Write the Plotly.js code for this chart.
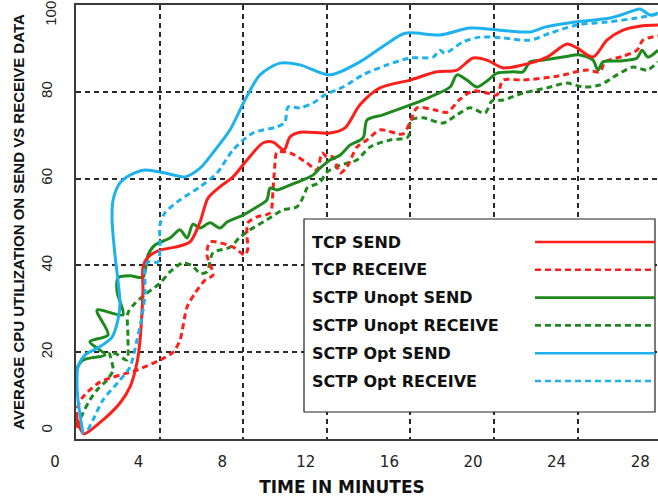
<!DOCTYPE html>
<html><head><meta charset="utf-8">
<script src="https://cdn.plot.ly/plotly-3.0.1.min.js"></script>
<style>html,body{margin:0;padding:0;background:#fff;}#chart{width:658px;height:497px;}</style>
</head><body><div id="chart"></div>
<script>
// ---- data (minutes, % CPU) ----
const seriesNames = ["TCP SEND", "TCP RECEIVE", "SCTP Unopt SEND", "SCTP Unopt RECEIVE", "SCTP Opt SEND", "SCTP Opt RECEIVE"];

const tcpSendX = [1.0,1.2,1.39,2.30,3.11,3.59,3.92,4.07,4.16,4.21,4.21,4.45,5.02,5.74,6.46,6.94,7.32,7.89,8.52,9.19,9.95,10.43,10.96,11.24,11.72,13.16,13.88,14.59,15.55,16.99,18.28,19.23,20.0,20.67,21.44,22.39,23.54,24.50,24.98,25.74,26.41,27.18,28.13,28.85];
const tcpSendY = [5.5,2.5,1.2,4.4,8.3,12.0,17.5,22.8,29.0,34.3,39.6,41.9,43.5,44.2,45.4,50.0,55.5,58.1,60.4,64.3,68.2,68.4,66.6,69.6,70.7,70.5,71.7,77.0,80.9,82.7,84.6,85.0,87.8,87.3,85.5,86.2,88.0,91.0,90.1,88.0,91.9,94.2,95.2,95.4];

const tcpRecvX = [1.10,1.05,1.29,2.15,3.92,5.02,5.65,5.98,6.32,6.70,7.18,7.56,7.27,7.42,8.52,9.09,9.23,9.19,9.23,9.67,10.29,10.43,10.53,10.62,11.24,12.06,12.54,12.78,13.01,13.30,13.64,13.97,14.45,14.93,15.55,16.65,16.99,17.32,18.18,18.76,19.38,20.0,20.67,21.15,21.44,22.39,24.02,25.45,26.08,26.32,27.18,27.85,28.13,28.85];
const tcpRecvY = [2.5,6.7,9.4,13.1,15.9,18.2,20.0,22.8,30.4,33.6,36.6,37.8,42.4,45.4,44.2,42.4,44.0,46.5,49.8,51.2,52.1,57.4,63.6,66.1,65.9,63.6,62.0,65.9,65.0,65.0,61.3,62.7,67.3,68.9,71.2,70.3,73.0,76.3,75.8,75.3,78.3,80.2,79.7,79.3,82.7,82.7,83.6,85.0,84.6,86.9,88.2,89.6,91.9,92.9];

const unoptSendX = [0.81,1.34,2.39,1.67,2.54,2.01,3.25,2.97,3.01,3.59,4.21,4.45,4.78,5.50,5.98,6.32,6.60,6.94,7.42,7.89,8.23,9.0,9.67,10.14,10.29,10.62,11.24,11.87,12.34,12.68,13.16,13.64,14.11,14.74,14.93,15.69,17.13,17.94,18.90,19.23,19.71,20.19,20.67,21.15,21.91,22.39,22.73,23.35,24.31,25.12,25.74,25.98,26.22,27.03,27.85,28.09,28.37,28.85];
const unoptSendY = [14.1,18.2,19.4,22.4,24.0,29.7,28.6,33.9,37.1,37.6,37.3,42.4,44.7,46.3,48.2,46.3,49.5,48.6,49.8,48.6,50.0,51.6,53.5,55.1,57.8,57.4,58.5,59.7,60.8,62.4,64.3,65.4,67.7,69.4,73.5,74.7,77.2,78.8,81.1,83.9,82.7,81.1,82.5,84.3,84.6,84.6,86.9,87.3,88.0,88.5,87.3,85.0,86.9,87.1,87.8,89.6,88.0,89.6];

const unoptRecvX = [1.05,1.34,1.67,2.01,2.49,2.78,2.63,3.01,3.44,3.49,3.49,3.83,4.40,5.02,5.50,6.12,6.56,6.94,7.27,7.56,8.37,8.85,9.33,10.14,10.91,11.58,11.96,12.06,12.68,13.01,13.64,14.45,15.07,16.03,16.89,17.03,17.61,18.56,19.23,19.86,20.57,20.91,21.44,22.39,23.54,24.50,25.26,26.08,26.89,27.66,28.33,28.85];
const unoptRecvY = [2.8,6.0,9.0,11.3,13.6,15.9,20.0,19.4,18.2,23.5,29.0,31.3,33.6,35.9,38.5,40.6,39.9,38.2,38.5,42.9,44.2,46.5,48.2,50.5,52.8,53.5,56.7,57.8,59.2,61.5,63.1,64.3,67.3,68.9,69.6,73.5,74.0,72.8,74.7,76.3,75.1,77.9,78.1,79.7,80.9,82.0,81.1,81.6,83.9,85.7,85.0,86.9];

const optSendX = [1.34,1.10,1.05,1.10,1.44,2.06,2.73,3.01,3.11,3.01,2.87,2.73,2.78,3.11,3.59,4.31,5.26,6.22,6.94,7.66,8.37,9.09,9.81,10.77,11.72,13.16,14.59,15.79,16.75,18.42,19.86,21.29,22.73,23.44,24.88,26.56,27.51,27.99,28.47,28.85];
const optSendY = [1.2,9.0,12.9,16.6,19.4,21.0,23.5,27.4,31.3,36.6,42.4,50.5,55.1,59.0,60.8,62.0,61.3,60.4,62.4,66.6,71.2,78.1,83.9,86.6,86.2,83.9,86.9,90.8,93.5,93.1,94.7,94.2,93.8,94.9,96.1,97.0,98.4,99.1,97.7,98.2];

const optRecvX = [1.58,1.82,2.30,3.11,3.59,3.92,4.16,4.31,4.31,4.45,4.93,5.02,5.02,5.26,5.98,6.94,7.75,8.52,9.47,10.62,11.0,11.15,11.72,12.34,12.92,13.78,14.74,15.89,16.99,18.09,18.42,18.66,19.52,20.33,21.44,22.73,23.68,24.98,26.41,27.85,28.85];
const optRecvY = [2.1,4.4,9.0,13.6,16.6,22.8,28.1,33.6,39.6,40.8,40.8,44.7,49.3,52.1,55.1,58.1,61.3,66.6,70.5,71.9,73.0,76.5,76.3,77.4,79.3,81.1,83.9,86.2,87.8,88.0,89.6,88.9,91.5,92.6,92.4,91.9,93.5,95.4,96.1,97.0,97.9];

// axis tick labels and grid positions
const xTickVals = [0, 4, 8, 12, 16, 20, 24, 28];
const xTickText = ["0", "4", "8", "12", "16", "20", "24", "28"];
const xGridVals = [5, 9, 13, 17, 21, 25];
const yTickVals = [0, 20, 40, 60, 80, 100];
const yTickText = ["\u00A0\u00A0\u00A0\u00A00", "20", "40", "60", "80", "100"];
const xTitle = "TIME IN MINUTES";
const yTitle = "AVERAGE CPU UTILIZATION ON SEND VS RECEIVE DATA";

// ---- styles ----
const RED = "#ff1f1a", GREEN = "#1e8a1e", BLUE = "#1db2ee";
const DASH = "6px,4px";
const styles = [
  {color: RED, dash: "solid"},
  {color: RED, dash: DASH},
  {color: GREEN, dash: "solid"},
  {color: GREEN, dash: DASH},
  {color: BLUE, dash: "solid"},
  {color: BLUE, dash: DASH}
];
const xs = [tcpSendX, tcpRecvX, unoptSendX, unoptRecvX, optSendX, optRecvX];
const ys = [tcpSendY, tcpRecvY, unoptSendY, unoptRecvY, optSendY, optRecvY];
// draw order: back to front
const order = [3, 1, 2, 0, 5, 4];

const traces = order.map(i => ({
  type: "scatter", mode: "lines", name: seriesNames[i],
  x: xs[i], y: ys[i], xaxis: "x", yaxis: "y",
  line: {color: styles[i].color, dash: styles[i].dash, width: 3, shape: "spline", smoothing: 0.8},
  showlegend: false, hoverinfo: "skip"
}));
// carriers for the label-only axes
traces.push({type: "scatter", mode: "lines", x: [], y: [], xaxis: "x2", yaxis: "y2", showlegend: false, hoverinfo: "skip"});
traces.push({type: "scatter", mode: "lines", x: [], y: [], xaxis: "x", yaxis: "y3", showlegend: false, hoverinfo: "skip"});

// pixel geometry
const W = 658, H = 497, L = 26, T = 5, B = 58;
const plotLeftPx = 76;
const pxPerMin = 20.9, zeroPx = 55;
const mainDomainStart = (plotLeftPx - L) / (W - L);
const xMainRange = [(plotLeftPx - zeroPx) / pxPerMin, (W - zeroPx) / pxPerMin];
const xLabelRange = [(L - zeroPx) / pxPerMin, (W - zeroPx) / pxPerMin];

const AX = "#3a3a3a";
const gridStyle = {showgrid: true, gridcolor: "#2a2a2a", gridwidth: 2, griddash: "5px,4px"};
const yTickFont = {family: "Liberation Sans, Arial", size: 15, color: "#222"};

// legend built by hand: labels left, line keys right
const plotH = H - T - B;
const toPX = px => (px - L) / (W - L);
const toPY = py => (H - B - py) / plotH;
const box = {x0: toPX(304), x1: toPX(655), y0: toPY(412), y1: toPY(219)};
const rowTop = 242, rowStep = 27.8;
const shapes = [{type: "rect", xref: "paper", yref: "paper", x0: box.x0, x1: box.x1, y0: box.y0, y1: box.y1,
  fillcolor: "#fff", line: {color: "#222", width: 1.2}, layer: "above"}];
const annotations = [];
seriesNames.forEach((nm, i) => {
  const yy = toPY(rowTop + i * rowStep);
  annotations.push({xref: "paper", yref: "paper", x: toPX(310), y: yy, xanchor: "left", yanchor: "middle",
    text: "<b>" + nm + "</b>", showarrow: false,
    font: {family: "DejaVu Sans", size: 16, color: "#111"}});
  shapes.push({type: "line", xref: "paper", yref: "paper", x0: toPX(535), x1: toPX(655), y0: yy, y1: yy,
    line: {color: styles[i].color, dash: styles[i].dash, width: 2.6}, layer: "above"});
});

const nY = yTickVals.length;
const layout = {
  width: W, height: H,
  margin: {l: L, r: 0, t: T, b: B, pad: 0},
  paper_bgcolor: "#fff", plot_bgcolor: "rgba(0,0,0,0)",
  showlegend: false,
  xaxis: Object.assign({
    domain: [mainDomainStart, 1], range: xMainRange, anchor: "y",
    tickmode: "array", tickvals: xGridVals, showticklabels: false, ticks: "",
    showline: true, linecolor: AX, linewidth: 2, mirror: true, zeroline: false
  }, gridStyle),
  yaxis: Object.assign({
    domain: [0, 1], range: [0, 100], anchor: "x",
    tickmode: "array", tickvals: yTickVals, ticktext: yTickText.slice(0, nY - 1).concat([""]),
    tickangle: -90, ticks: "",
    ticklabelstandoff: 16, ticklabeloverflow: "allow",
    tickfont: yTickFont,
    showline: true, linecolor: AX, linewidth: 2, zeroline: false,
    title: {text: "<b>" + yTitle + "</b>", font: {family: "Liberation Sans, Arial", size: 15, color: "#111"}, standoff: 10}
  }, gridStyle),
  // top label ("100") sits just below its tick, as in the source figure
  yaxis3: {
    overlaying: "y", anchor: "x", side: "left", range: [0, 100],
    tickmode: "array", tickvals: yTickVals.slice(nY - 1), ticktext: yTickText.slice(nY - 1),
    tickangle: -90, ticks: "", ticklabelposition: "outside bottom", ticklabelstandoff: 16,
    tickfont: yTickFont, showgrid: false, showline: false, zeroline: false
  },
  xaxis2: {
    domain: [0, 1], range: xLabelRange, anchor: "y2",
    tickmode: "array", tickvals: xTickVals, ticktext: xTickText, ticks: "",
    ticklabelstandoff: 12, ticklabeloverflow: "allow",
    tickfont: {family: "DejaVu Sans", size: 15, color: "#222"},
    showgrid: false, showline: false, zeroline: false,
    title: {text: "<b>" + xTitle + "</b>", font: {family: "DejaVu Sans", size: 17, color: "#111"}, standoff: 12}
  },
  yaxis2: {domain: [0, 1], range: [0, 100], anchor: "x2", visible: false, showgrid: false},
  shapes: shapes,
  annotations: annotations
};

Plotly.newPlot("chart", traces, layout, {displayModeBar: false, staticPlot: true});
</script>
</body></html>
